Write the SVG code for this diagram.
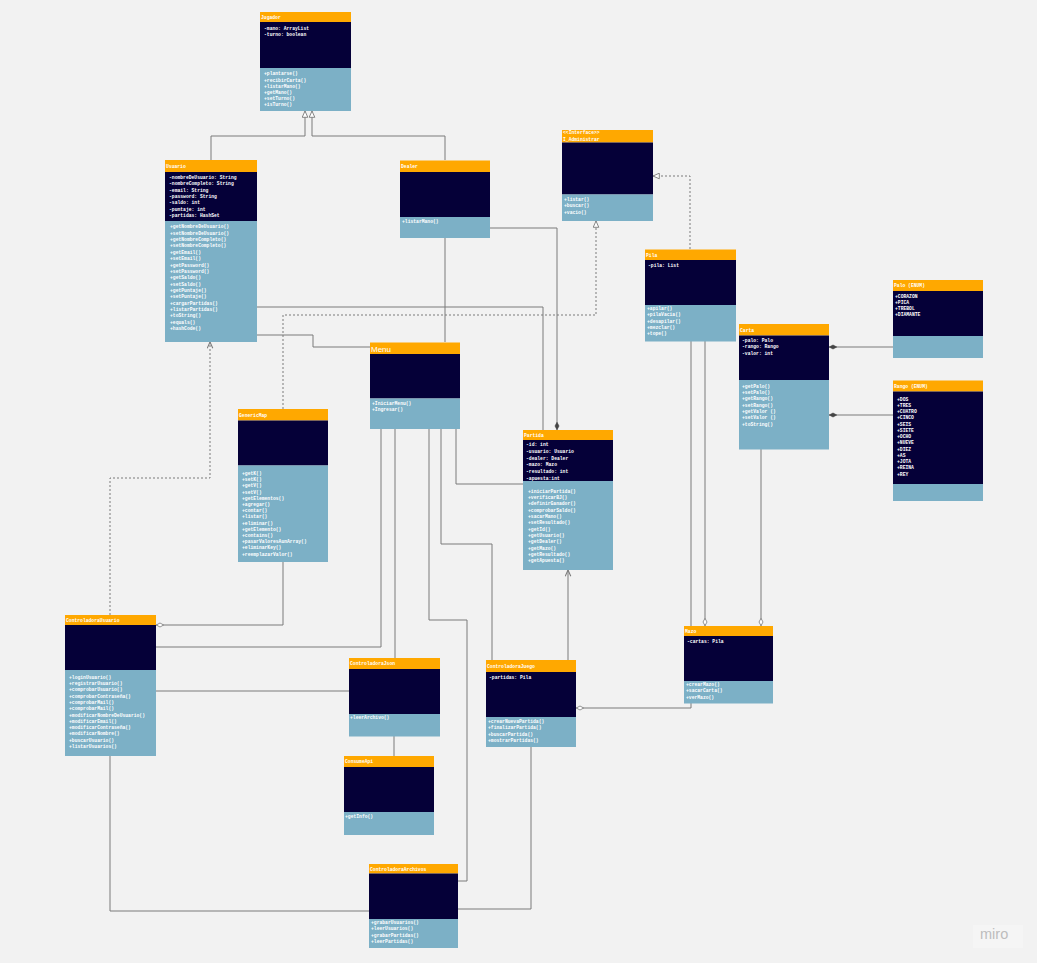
<svg xmlns="http://www.w3.org/2000/svg" width="1037" height="963" viewBox="0 0 1037 963">
<defs>
<style>
.h{fill:#ffa800}
.a{fill:#050038}
.m{fill:#7cb0c6}
text{font-family:"Liberation Mono","DejaVu Sans Mono",monospace;font-size:4.7px;fill:#ffffff;font-weight:bold}
.c{fill:none;stroke:#7a7a7a;stroke-width:1}
.d{stroke-dasharray:2,2}
</style>
<marker id="tri" viewBox="0 0 10 10" refX="10" refY="5" markerWidth="7" markerHeight="7" markerUnits="userSpaceOnUse" orient="auto"><path d="M1,1 L10,5 L1,9 z" fill="#ffffff" stroke="#7a7a7a" stroke-width="1.3"/></marker>
<marker id="arr" viewBox="0 0 10 10" refX="10" refY="5" markerWidth="7" markerHeight="7" markerUnits="userSpaceOnUse" orient="auto"><path d="M1,1 L10,5 L1,9" fill="none" stroke="#7a7a7a" stroke-width="1.5"/></marker>
<marker id="dia" viewBox="0 0 12 8" refX="12" refY="4" markerWidth="8" markerHeight="5.5" markerUnits="userSpaceOnUse" orient="auto"><path d="M0.5,4 L6,1 L11.5,4 L6,7 z" fill="#ffffff" stroke="#7a7a7a" stroke-width="1.2"/></marker>
<marker id="fdia" viewBox="0 0 12 8" refX="12" refY="4" markerWidth="8" markerHeight="5.5" markerUnits="userSpaceOnUse" orient="auto"><path d="M0.5,4 L6,1 L11.5,4 L6,7 z" fill="#444444" stroke="#444444" stroke-width="1"/></marker>
</defs>
<rect x="0" y="0" width="1037" height="963" fill="#f2f2f2"/>

<g id="connectors">
<path class="c" d="M211,160 V136 H305 V111" marker-end="url(#tri)"/>
<path class="c" d="M445,160 V136 H312 V111" marker-end="url(#tri)"/>
<path class="c" d="M445,238 V342"/>
<path class="c" d="M490,228 H557 V430" marker-end="url(#fdia)"/>
<path class="c" d="M257,307 H543 V430"/>
<path class="c" d="M257,335 H313 V347 H370"/>
<path class="c d" d="M283,409 V315 H596 V221" marker-end="url(#tri)"/>
<path class="c d" d="M690,249 V176 H653" marker-end="url(#tri)"/>
<path class="c d" d="M110,615 V478 H210 V342" marker-end="url(#arr)"/>
<path class="c" d="M283,562 V625 H156" marker-end="url(#dia)"/>
<path class="c" d="M381,429 V647 H156"/>
<path class="c" d="M156,691 H349"/>
<path class="c" d="M395,429 V658"/>
<path class="c" d="M429,429 V620 H467 V881 H458"/>
<path class="c" d="M441,429 V544 H492 V660"/>
<path class="c" d="M456,429 V484 H523"/>
<path class="c" d="M394,736 V756"/>
<path class="c" d="M110,756 V911 H369"/>
<path class="c" d="M531,747 V909 H458"/>
<path class="c" d="M568,660 V570" marker-end="url(#arr)"/>
<path class="c" d="M691,341 V708 H576" marker-end="url(#dia)"/>
<path class="c" d="M705,341 V626" marker-end="url(#dia)"/>
<path class="c" d="M761,449 V626" marker-end="url(#dia)"/>
<path class="c" d="M893,347 H829" marker-end="url(#fdia)"/>
<path class="c" d="M893,415 H829" marker-end="url(#fdia)"/>
</g>

<g id="jugador">
<rect class="h" x="260" y="12" width="91" height="10"/>
<rect class="a" x="260" y="22" width="91" height="46"/>
<rect class="m" x="260" y="68" width="91" height="43"/>
<text x="261" y="19">Jugador</text>
<text x="264" y="29.7"><tspan x="264">-mano: ArrayList</tspan><tspan x="264" dy="6.3">-turno: boolean</tspan></text>
<text x="264" y="75.4"><tspan x="264">+plantarse()</tspan><tspan x="264" dy="6.2">+recibirCarta()</tspan><tspan x="264" dy="6.2">+listarMano()</tspan><tspan x="264" dy="6.2">+getMano()</tspan><tspan x="264" dy="6.2">+setTurno()</tspan><tspan x="264" dy="6.2">+isTurno()</tspan></text>
</g>

<g id="usuario">
<rect class="h" x="165" y="160" width="92" height="12"/>
<rect class="a" x="165" y="172" width="92" height="49"/>
<rect class="m" x="165" y="221" width="92" height="121"/>
<text x="166" y="168">Usuario</text>
<text x="169" y="179"><tspan x="169">-nombreDeUsuario: String</tspan><tspan x="169" dy="6.3">-nombreCompleto: String</tspan><tspan x="169" dy="6.3">-email: String</tspan><tspan x="169" dy="6.3">-password: String</tspan><tspan x="169" dy="6.3">-saldo: int</tspan><tspan x="169" dy="6.3">-puntaje: int</tspan><tspan x="169" dy="6.3">-partidas: HashSet</tspan></text>
<text x="170" y="228.4"><tspan x="170">+getNombreDeUsuario()</tspan><tspan x="170" dy="6.35">+setNombreDeUsuario()</tspan><tspan x="170" dy="6.35">+getNombreCompleto()</tspan><tspan x="170" dy="6.35">+setNombreCompleto()</tspan><tspan x="170" dy="6.35">+getEmail()</tspan><tspan x="170" dy="6.35">+setEmail()</tspan><tspan x="170" dy="6.35">+getPassword()</tspan><tspan x="170" dy="6.35">+setPassword()</tspan><tspan x="170" dy="6.35">+getSaldo()</tspan><tspan x="170" dy="6.35">+setSaldo()</tspan><tspan x="170" dy="6.35">+getPuntaje()</tspan><tspan x="170" dy="6.35">+setPuntaje()</tspan><tspan x="170" dy="6.35">+cargarPartidas()</tspan><tspan x="170" dy="6.35">+listarPartidas()</tspan><tspan x="170" dy="6.35">+toString()</tspan><tspan x="170" dy="6.35">+equals()</tspan><tspan x="170" dy="6.35">+hashCode()</tspan></text>
</g>

<g id="dealer">
<rect class="h" x="400" y="160.5" width="90" height="11.5"/>
<rect class="a" x="400" y="172" width="90" height="45"/>
<rect class="m" x="400" y="217" width="90" height="21"/>
<text x="401" y="168">Dealer</text>
<text x="402" y="222.7">+listarMano()</text>
</g>

<g id="i-administrar">
<rect class="h" x="562" y="130" width="91" height="12.5"/>
<rect class="a" x="562" y="142.5" width="91" height="52"/>
<rect class="m" x="562" y="194.5" width="91" height="26.5"/>
<text x="563" y="134"><tspan x="563">&lt;&lt;Interface&gt;&gt;</tspan><tspan x="563" dy="6.7">I_Administrar</tspan></text>
<text x="564" y="200.7"><tspan x="564">+listar()</tspan><tspan x="564" dy="6.3">+buscar()</tspan><tspan x="564" dy="7">+vacio()</tspan></text>
</g>

<g id="pila">
<rect class="h" x="645" y="249.5" width="91" height="10.5"/>
<rect class="a" x="645" y="260" width="91" height="45"/>
<rect class="m" x="645" y="305" width="91" height="36.5"/>
<text x="646" y="257">Pila</text>
<text x="648" y="266.7">-pila: List</text>
<text x="647" y="309.7"><tspan x="647">+apilar()</tspan><tspan x="647" dy="6.4">+pilaVacia()</tspan><tspan x="647" dy="6.4">+desapilar()</tspan><tspan x="647" dy="6.4">+mezclar()</tspan><tspan x="647" dy="6.4">+tope()</tspan></text>
</g>

<g id="palo">
<rect class="h" x="893" y="280" width="90" height="11"/>
<rect class="a" x="893" y="291" width="90" height="45"/>
<rect class="m" x="893" y="336" width="90" height="22"/>
<text x="894" y="287.3">Palo (ENUM)</text>
<text x="895" y="297.7"><tspan x="895">+CORAZON</tspan><tspan x="895" dy="6.1">+PICA</tspan><tspan x="895" dy="6.1">+TREBOL</tspan><tspan x="895" dy="6.3">+DIAMANTE</tspan></text>
</g>

<g id="carta">
<rect class="h" x="739" y="324" width="90" height="11.5"/>
<rect class="a" x="739" y="335.5" width="90" height="44.5"/>
<rect class="m" x="739" y="380" width="90" height="69.5"/>
<text x="740" y="331.5">Carta</text>
<text x="742" y="342"><tspan x="742">-palo: Palo</tspan><tspan x="742" dy="6.2">-rango: Rango</tspan><tspan x="742" dy="6.5">-valor: int</tspan></text>
<text x="742" y="387.7"><tspan x="742">+getPalo()</tspan><tspan x="742" dy="6.35">+setPalo()</tspan><tspan x="742" dy="6.35">+getRango()</tspan><tspan x="742" dy="6.35">+setRango()</tspan><tspan x="742" dy="6.35">+getValor ()</tspan><tspan x="742" dy="6.35">+setValor ()</tspan><tspan x="742" dy="6.35">+toString()</tspan></text>
</g>

<g id="rango">
<rect class="h" x="893" y="380.5" width="90" height="11"/>
<rect class="a" x="893" y="391.5" width="90" height="92.5"/>
<rect class="m" x="893" y="484" width="90" height="17"/>
<text x="894" y="388">Rango (ENUM)</text>
<text x="897" y="400.7"><tspan x="897">+DOS</tspan><tspan x="897" dy="6.25">+TRES</tspan><tspan x="897" dy="6.25">+CUATRO</tspan><tspan x="897" dy="6.25">+CINCO</tspan><tspan x="897" dy="6.25">+SEIS</tspan><tspan x="897" dy="6.25">+SIETE</tspan><tspan x="897" dy="6.25">+OCHO</tspan><tspan x="897" dy="6.25">+NUEVE</tspan><tspan x="897" dy="6.25">+DIEZ</tspan><tspan x="897" dy="6.25">+AS</tspan><tspan x="897" dy="6.25">+JOTA</tspan><tspan x="897" dy="6.25">+REINA</tspan><tspan x="897" dy="6.25">+REY</tspan></text>
</g>

<g id="menu">
<rect class="h" x="370" y="342.5" width="90" height="11.5"/>
<rect class="a" x="370" y="354" width="90" height="44.5"/>
<rect class="m" x="370" y="398.5" width="90" height="30.5"/>
<text x="371" y="351.5" style="font-family:'Liberation Sans','Noto Sans',sans-serif;font-size:8px;font-weight:normal">Menu</text>
<text x="372" y="404.7"><tspan x="372">+IniciarMenu()</tspan><tspan x="372" dy="6.3">+Ingresar()</tspan></text>
</g>

<g id="genericmap">
<rect class="h" x="238" y="409" width="90" height="11.5"/>
<rect class="a" x="238" y="420.5" width="90" height="45"/>
<rect class="m" x="238" y="465.5" width="90" height="96.5"/>
<text x="239" y="416.5">GenericMap</text>
<text x="242" y="475"><tspan x="242">+getK()</tspan><tspan x="242" dy="6.2">+setK()</tspan><tspan x="242" dy="6.2">+getV()</tspan><tspan x="242" dy="6.2">+setV()</tspan><tspan x="242" dy="6.2">+getElementos()</tspan><tspan x="242" dy="6.2">+agregar()</tspan><tspan x="242" dy="6.2">+contar()</tspan><tspan x="242" dy="6.2">+listar()</tspan><tspan x="242" dy="6.2">+eliminar()</tspan><tspan x="242" dy="6.2">+getElemento()</tspan><tspan x="242" dy="6.2">+contains()</tspan><tspan x="242" dy="6.2">+pasarValoresAunArray()</tspan><tspan x="242" dy="6.2">+eliminarKey()</tspan><tspan x="242" dy="6.2">+reemplazarValor()</tspan></text>
</g>

<g id="partida">
<rect class="h" x="523" y="430" width="90" height="10"/>
<rect class="a" x="523" y="440" width="90" height="41"/>
<rect class="m" x="523" y="481" width="90" height="89"/>
<text x="524" y="436.8">Partida</text>
<text x="526" y="446.4"><tspan x="526">-id: int</tspan><tspan x="526" dy="6.67">-usuario: Usuario</tspan><tspan x="526" dy="6.67">-dealer: Dealer</tspan><tspan x="526" dy="6.67">-mazo: Mazo</tspan><tspan x="526" dy="6.67">-resultado: int</tspan><tspan x="526" dy="6.67">-apuesta:int</tspan></text>
<text x="528" y="492.7"><tspan x="528">+iniciarPartida()</tspan><tspan x="528" dy="6.33">+verificarBJ()</tspan><tspan x="528" dy="6.33">+definirGanador()</tspan><tspan x="528" dy="6.33">+comprobarSaldo()</tspan><tspan x="528" dy="6.33">+sacarMano()</tspan><tspan x="528" dy="6.33">+setResultado()</tspan><tspan x="528" dy="6.33">+getId()</tspan><tspan x="528" dy="6.33">+getUsuario()</tspan><tspan x="528" dy="6.33">+getDealer()</tspan><tspan x="528" dy="6.33">+getMazo()</tspan><tspan x="528" dy="6.33">+getResultado()</tspan><tspan x="528" dy="6.33">+getApuesta()</tspan></text>
</g>

<g id="controladorausuario">
<rect class="h" x="65" y="615" width="91" height="10"/>
<rect class="a" x="65" y="625" width="91" height="45"/>
<rect class="m" x="65" y="670" width="91" height="86"/>
<text x="66" y="621.7">ControladoraUsuario</text>
<text x="69" y="678.7"><tspan x="69">+loginUsuario()</tspan><tspan x="69" dy="6.3">+registrarUsuario()</tspan><tspan x="69" dy="6.3">+comprobarUsuario()</tspan><tspan x="69" dy="6.3">+comprobarContraseña()</tspan><tspan x="69" dy="6.3">+comprobarMail()</tspan><tspan x="69" dy="6.3">+comprobarMail()</tspan><tspan x="69" dy="6.3">+modificarNombreDeUsuario()</tspan><tspan x="69" dy="6.3">+modificarEmail()</tspan><tspan x="69" dy="6.3">+modificarContraseña()</tspan><tspan x="69" dy="6.3">+modificarNombre()</tspan><tspan x="69" dy="6.3">+buscarUsuario()</tspan><tspan x="69" dy="6.3">+listarUsuarios()</tspan></text>
</g>

<g id="controladorajson">
<rect class="h" x="349" y="658" width="91" height="11"/>
<rect class="a" x="349" y="669" width="91" height="45"/>
<rect class="m" x="349" y="714" width="91" height="22.5"/>
<text x="350" y="665.3">ControladoraJson</text>
<text x="350" y="719.4">+leerArchivo()</text>
</g>

<g id="consumeapi">
<rect class="h" x="344" y="756" width="90" height="11"/>
<rect class="a" x="344" y="767" width="90" height="45"/>
<rect class="m" x="344" y="812" width="90" height="23"/>
<text x="345" y="763.3">ConsumeApi</text>
<text x="345" y="818">+getInfo()</text>
</g>

<g id="controladorajuego">
<rect class="h" x="486" y="660" width="90" height="12"/>
<rect class="a" x="486" y="672" width="90" height="45"/>
<rect class="m" x="486" y="717" width="90" height="30"/>
<text x="487" y="667.7">ControladoraJuego</text>
<text x="489" y="679">-partidas: Pila</text>
<text x="488" y="722.7"><tspan x="488">+crearNuevaPartida()</tspan><tspan x="488" dy="6.2">+finalizarPartida()</tspan><tspan x="488" dy="6.6">+buscarPartida()</tspan><tspan x="488" dy="6.4">+mostrarPartidas()</tspan></text>
</g>

<g id="controladoraarchivos">
<rect class="h" x="369" y="864" width="89" height="9.5"/>
<rect class="a" x="369" y="873.5" width="89" height="45.5"/>
<rect class="m" x="369" y="919" width="89" height="29"/>
<text x="370" y="870.5">ControladoraArchivos</text>
<text x="371" y="924"><tspan x="371">+grabarUsuarios()</tspan><tspan x="371" dy="6.45">+leerUsuarios()</tspan><tspan x="371" dy="6.45">+grabarPartidas()</tspan><tspan x="371" dy="6.45">+leerPartidas()</tspan></text>
</g>

<g id="mazo">
<rect class="h" x="684" y="626" width="89" height="10"/>
<rect class="a" x="684" y="636" width="89" height="45"/>
<rect class="m" x="684" y="681" width="89" height="22.5"/>
<text x="685" y="632.8">Mazo</text>
<text x="687" y="642.7">-cartas: Pila</text>
<text x="686" y="685.7"><tspan x="686">+crearMazo()</tspan><tspan x="686" dy="6.6">+sacarCarta()</tspan><tspan x="686" dy="7">+verMazo()</tspan></text>
</g>

<g id="miro-logo">
<rect x="973" y="925" width="50" height="23" fill="#f5f5f5"/>
<text x="980" y="939" style="font-family:'Liberation Sans','Noto Sans',sans-serif;font-size:14.5px;font-weight:normal;fill:#bdbdbd">miro</text>
</g>
</svg>
